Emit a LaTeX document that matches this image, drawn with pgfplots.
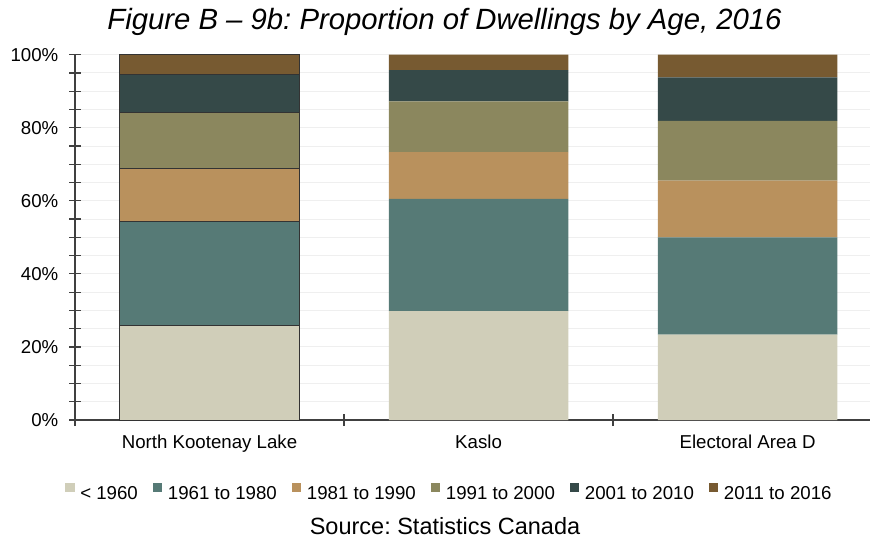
\documentclass[border=0pt]{standalone}
\usepackage{pgfplots}
\pgfplotsset{compat=1.18}
\usepackage{fontspec}
\setmainfont{Liberation Sans}
\frenchspacing
\definecolor{cA}{HTML}{D0CEB9}
\definecolor{cB}{HTML}{567A76}
\definecolor{cC}{HTML}{B9915D}
\definecolor{cD}{HTML}{8B875E}
\definecolor{cE}{HTML}{354948}
\definecolor{cF}{HTML}{775A31}
\definecolor{axiscol}{HTML}{404040}
\definecolor{gridcol}{HTML}{EFEFEF}
\newcommand{\lab}{\fontsize{18.67}{22}\selectfont}
\begin{document}
\begin{tikzpicture}[x=1pt,y=1pt]
\useasboundingbox (0,0) rectangle (870,539);
\pgfplotsset{
  basestyle/.style={
    scale only axis,
    width=795pt, height=365.3pt,
    at={(75pt,119pt)}, anchor=south west,
    xmin=-0.5, xmax=2.455, ymin=0, ymax=100,
    ybar stacked, bar width=179.5pt,
  }
}
\begin{axis}[
  basestyle,
  axis x line=bottom, axis y line=left,
  axis line style={-, draw=axiscol, line width=1.2pt},
  tick style={draw=axiscol, line width=1.2pt},
  tick align=center,
  major tick length=12pt, minor tick length=12pt,
  xtick={-0.5,0.5,1.5}, xticklabels={},
  extra x ticks={0,1,2},
  extra x tick labels={North Kootenay Lake, Kaslo, Electoral Area D},
  extra x tick style={major tick length=0pt, grid=none},
  xticklabel style={font=\lab, anchor=base, inner sep=0pt, yshift=-28.3pt},
  ytick={0,20,40,60,80,100},
  minor y tick num=3,
  ymajorgrids, yminorgrids,
  major grid style={draw=gridcol, line width=1pt},
  minor grid style={draw=gridcol, line width=1pt},
  /pgf/number format/assume math mode=true,
  yticklabel={\pgfmathprintnumber{\tick}\%},
  yticklabel style={font=\lab, anchor=east, inner sep=0pt, xshift=-10.5pt},
  legend columns=6,
  legend style={at={(0.4697,-0.197)}, anchor=center, draw=none, fill=none,
    inner sep=0pt, outer sep=0pt, font=\lab, nodes={inner sep=0pt},
    column sep=5.7pt, /tikz/every even column/.append style={column sep=15pt}},
  legend image code/.code={\fill[#1] (0pt,2.3pt) rectangle (9.3pt,11.6pt);},
]
\addplot[fill=cA, draw=none] coordinates {(0,26.0) (1,29.8) (2,23.4)};
\addlegendentry{< 1960\hspace{5pt}}
\addplot[fill=cB, draw=none] coordinates {(0,28.3) (1,30.7) (2,26.6)};
\addlegendentry{1961 to 1980}
\addplot[fill=cC, draw=none] coordinates {(0,14.6) (1,12.8) (2,15.5)};
\addlegendentry{1981 to 1990}
\addplot[fill=cD, draw=none] coordinates {(0,15.3) (1,13.9) (2,16.4)};
\addlegendentry{1991 to 2000}
\addplot[fill=cE, draw=none] coordinates {(0,10.3) (1,8.6) (2,11.9)};
\addlegendentry{2001 to 2010}
\addplot[fill=cF, draw=none] coordinates {(0,5.5) (1,4.2) (2,6.2)};
\addlegendentry{2011 to 2016}
\end{axis}
\begin{axis}[basestyle, hide axis]
\addplot[fill=none, draw=black!80, line width=1pt] coordinates {(0,26.0)};
\addplot[fill=none, draw=black!80, line width=1pt] coordinates {(0,28.3)};
\addplot[fill=none, draw=black!80, line width=1pt] coordinates {(0,14.6)};
\addplot[fill=none, draw=black!80, line width=1pt] coordinates {(0,15.3)};
\addplot[fill=none, draw=black!80, line width=1pt] coordinates {(0,10.3)};
\addplot[fill=none, draw=black!80, line width=1pt] coordinates {(0,5.5)};
\end{axis}
\node[anchor=base, font=\fontsize{29.3}{34}\selectfont\itshape] at (444.5,509) {Figure B – 9b: Proportion of Dwellings by Age, 2016};
\node[anchor=base, font=\fontsize{23.5}{28}\selectfont] at (445,4.5) {Source: Statistics Canada};
\end{tikzpicture}
\end{document}
